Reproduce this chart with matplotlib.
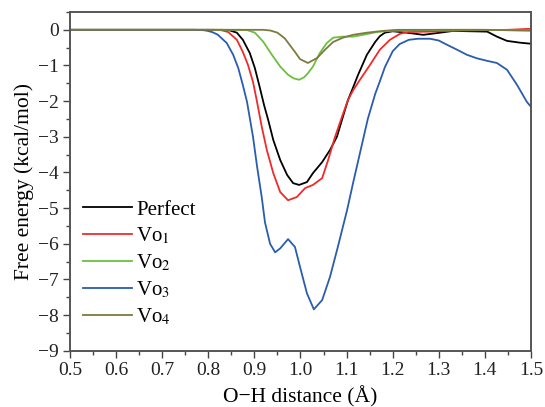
import numpy as np
import matplotlib
matplotlib.use('Agg')
import matplotlib.pyplot as plt
from matplotlib.ticker import MultipleLocator

plt.rcParams['font.family'] = ['Liberation Serif', 'DejaVu Serif']
plt.rcParams['mathtext.fontset'] = 'stix'

# free energy profiles along the O-H coordinate
x_perfect = [0.50, 0.83, 0.845, 0.862, 0.875, 0.890, 0.901, 0.912, 0.921, 0.930,
             0.941, 0.956, 0.971, 0.984, 0.997, 1.014, 1.027, 1.047, 1.064, 1.079,
             1.092, 1.103, 1.114, 1.125, 1.144, 1.162, 1.172, 1.183, 1.200, 1.231,
             1.266, 1.303, 1.331, 1.405, 1.426, 1.448, 1.476, 1.500]
y_perfect = [0.0, 0.0, -0.01, -0.08, -0.28, -0.65, -1.07, -1.63, -2.11, -2.53,
             -3.09, -3.65, -4.07, -4.30, -4.35, -4.27, -4.02, -3.71, -3.37, -3.00,
             -2.44, -1.97, -1.62, -1.26, -0.70, -0.34, -0.18, -0.08, -0.04, -0.08,
             -0.14, -0.08, -0.03, -0.05, -0.19, -0.31, -0.36, -0.39]

x_vo1 = [0.50, 0.81, 0.828, 0.843, 0.862, 0.875, 0.886, 0.897, 0.905, 0.916,
         0.927, 0.941, 0.956, 0.973, 0.992, 1.010, 1.027, 1.047, 1.060, 1.075,
         1.090, 1.103, 1.114, 1.129, 1.151, 1.172, 1.194, 1.216, 1.233, 1.281,
         1.350, 1.450, 1.500]
y_vo1 = [0.0, 0.0, -0.01, -0.06, -0.28, -0.62, -0.98, -1.46, -1.97, -2.72,
         -3.37, -4.02, -4.55, -4.78, -4.69, -4.44, -4.35, -4.16, -3.65, -3.00,
         -2.44, -1.97, -1.70, -1.40, -0.98, -0.56, -0.28, -0.11, -0.06, -0.05,
         -0.02, 0.0, 0.03]

x_vo2 = [0.50, 0.87, 0.885, 0.901, 0.919, 0.938, 0.956, 0.973, 0.985, 0.997,
         1.008, 1.016, 1.027, 1.042, 1.057, 1.071, 1.092, 1.114, 1.136, 1.166,
         1.194, 1.300, 1.400, 1.500]
y_vo2 = [0.0, 0.0, -0.01, -0.08, -0.33, -0.70, -1.03, -1.26, -1.36, -1.40,
         -1.33, -1.22, -1.03, -0.65, -0.37, -0.22, -0.19, -0.19, -0.14, -0.06,
         -0.03, 0.0, 0.0, -0.02]

x_vo3 = [0.50, 0.77, 0.790, 0.799, 0.810, 0.821, 0.840, 0.854, 0.865, 0.875,
         0.884, 0.897, 0.906, 0.916, 0.923, 0.934, 0.945, 0.956, 0.973, 0.988,
         0.999, 1.014, 1.029, 1.047, 1.064, 1.081, 1.101, 1.114, 1.130, 1.146,
         1.162, 1.172, 1.183, 1.200, 1.215, 1.235, 1.255, 1.281, 1.300, 1.318,
         1.340, 1.361, 1.383, 1.405, 1.426, 1.448, 1.470, 1.491, 1.500]
y_vo3 = [0.0, 0.0, -0.01, -0.03, -0.07, -0.14, -0.37, -0.70, -1.07, -1.55,
         -2.02, -3.00, -3.85, -4.70, -5.40, -6.00, -6.24, -6.13, -5.87, -6.09,
         -6.65, -7.39, -7.84, -7.58, -6.93, -6.09, -5.06, -4.30, -3.40, -2.50,
         -1.80, -1.45, -1.05, -0.60, -0.40, -0.28, -0.25, -0.25, -0.30, -0.42,
         -0.56, -0.70, -0.80, -0.87, -0.93, -1.12, -1.55, -2.02, -2.16]

x_vo4 = [0.50, 0.92, 0.935, 0.950, 0.966, 0.988, 0.999, 1.016, 1.036, 1.053,
         1.071, 1.092, 1.114, 1.144, 1.179, 1.210, 1.300, 1.400, 1.500]
y_vo4 = [0.0, 0.0, -0.02, -0.08, -0.24, -0.62, -0.82, -0.93, -0.79, -0.56,
         -0.34, -0.22, -0.14, -0.08, -0.03, 0.0, 0.0, 0.0, -0.02]

series = [(x_perfect, y_perfect, 'Perfect', 'black'),
          (x_vo1, y_vo1, 'Vo$_1$', '#f02a2a'),
          (x_vo2, y_vo2, 'Vo$_2$', '#6cbf40'),
          (x_vo3, y_vo3, 'Vo$_3$', '#2a5cb0'),
          (x_vo4, y_vo4, 'Vo$_4$', '#7d7a40')]

fig = plt.figure(figsize=(5.45, 4.07), dpi=100)
ax = fig.add_axes([0.1284, 0.1383, 0.8459, 0.8322])

for xs, ys, lab, col in series:
    ax.plot(xs, ys, color=col, lw=1.3, label=lab, solid_joinstyle='round')

ax.set_xlim(0.5, 1.5)
ax.set_ylim(-9, 0.5)
ax.set_xticks(np.arange(0.5, 1.51, 0.1))
ax.set_xticklabels(['%.1f' % v for v in np.arange(0.5, 1.51, 0.1)])
ax.xaxis.set_minor_locator(MultipleLocator(0.05))
ax.yaxis.set_major_locator(MultipleLocator(1))
ax.yaxis.set_minor_locator(MultipleLocator(0.5))

ax.tick_params(which='both', direction='out', top=False, right=False,
               color='#444444', width=1.0, labelsize=14, labelcolor='#222222',
               pad=3)
ax.tick_params(which='major', length=5)
ax.tick_params(which='minor', length=3)
for sp in ax.spines.values():
    sp.set_color('#555555')
    sp.set_linewidth(1.4)

ax.set_xlabel('O\u2212H distance (\u00c5)', fontsize=15.5, labelpad=5)
ax.set_ylabel('Free energy (kcal/mol)', fontsize=15.5, labelpad=3)

ax.legend(loc='upper left', bbox_to_anchor=(0.028, 0.445), frameon=False,
          fontsize=15, handlelength=2.35, handletextpad=0.2,
          labelspacing=0.3, borderpad=0, borderaxespad=0)

fig.savefig('out.png', dpi=100)
